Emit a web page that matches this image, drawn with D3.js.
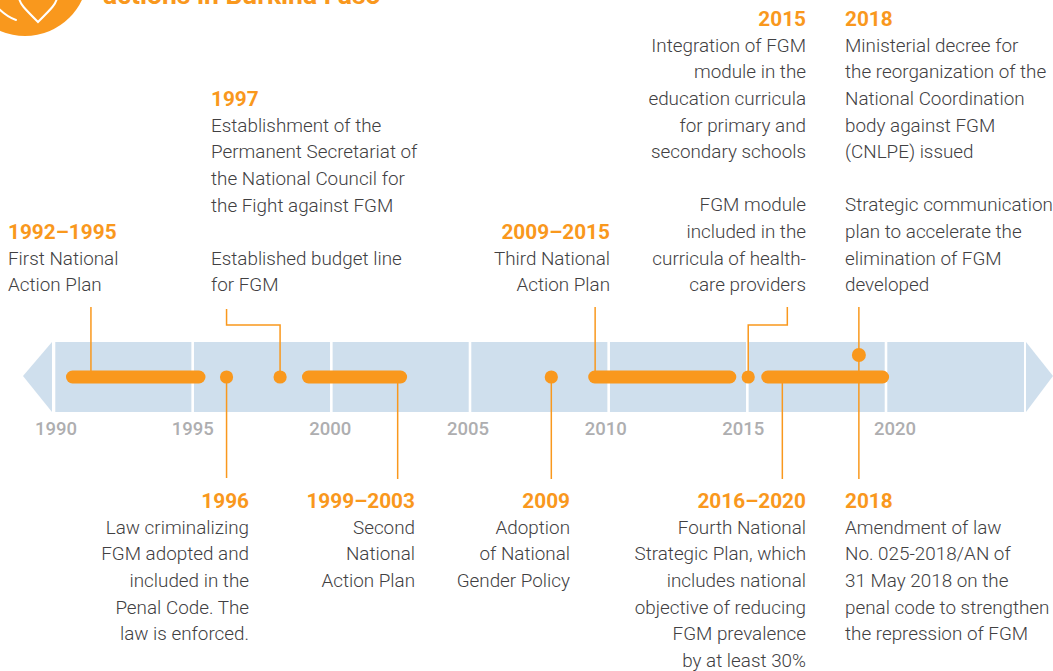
<!DOCTYPE html>
<html lang="en">
<head>
    <title>Burkina Faso FGM timeline</title>
    <script src="https://cdnjs.cloudflare.com/ajax/libs/d3/7.8.5/d3.min.js"></script>
    <style>
        html, body { margin: 0; padding: 0; background: #fff; overflow: hidden; }
        svg { display: block; font-family: Roboto, sans-serif; }
        .block text { font-size: 18.85px; font-weight: 300; fill: #414042; }
        .block text.head { font-size: 20.8px; font-weight: 700; fill: #f9981d; }
        .tick text { font-size: 18.5px; font-weight: 500; fill: #aeaeb0; }
        .leader { fill: none; stroke: #f9981d; stroke-width: 1.5; }
    </style>
</head>
<body>
    <svg width="1053" height="671"></svg>
    <script>
        const tickYears = [1990, 1995, 2000, 2005, 2010, 2015, 2020];
        // label nudges, the 2020 label sits right of its tick in the original
        const tickNudge = [2, 0, -1, -2, -3, -4, 9];

        // positions on the year axis as drawn (the drawn marks do not line up exactly with their labels)
        const barStart = [1990.45, 1998.96, 2009.28, 2015.52];
        const barEnd = [1995.48, 2002.75, 2014.62, 2020.13];
        const dotYear = [1996.24, 1998.17, 2007.95, 2015.05, 2019.04];

        const headings = ["1992–1995", "1997", "2009–2015", "2015", "2018",
                          "1996", "1999–2003", "2009", "2016–2020", "2018"];
        const bodies = [
            ["First National", "Action Plan"],
            ["Establishment of the", "Permanent Secretariat of", "the National Council for", "the Fight against FGM", "", "Established budget line", "for FGM"],
            ["Third National", "Action Plan"],
            ["Integration of FGM", "module in the", "education curricula", "for primary and", "secondary schools", "", "FGM module", "included in the", "curricula of health-", "care providers"],
            ["Ministerial decree for", "the reorganization of the", "National Coordination", "body against FGM", "(CNLPE) issued", "", "Strategic communication", "plan to accelerate the", "elimination of FGM", "developed"],
            ["Law criminalizing", "FGM adopted and", "included in the", "Penal Code. The", "law is enforced."],
            ["Second", "National", "Action Plan"],
            ["Adoption", "of National", "Gender Policy"],
            ["Fourth National", "Strategic Plan, which", "includes national", "objective of reducing", "FGM prevalence", "by at least 30%"],
            ["Amendment of law", "No. 025-2018/AN of", "31 May 2018 on the", "penal code to strengthen", "the repression of FGM"]
        ];
        const blockX = [8, 211, 610, 806, 845, 249, 415, 570, 806, 845];
        const blockY = [239, 106, 239, 26, 26, 508, 508, 508, 508, 508];
        const blockAnchor = ["start", "start", "end", "end", "start", "end", "end", "end", "end", "start"];

        const svg = d3.select("svg");
        const orange = "#f9981d";
        const band = "#cfdfed";
        const bandTop = 342, bandBottom = 412, midY = 377, lineHeight = 26.6;

        const x = d3.scaleLinear().domain([1990, 2020]).range([53.5, 885.5]);

        // icon and title, cropped by the top of the page
        svg.append("circle").attr("cx", 25).attr("cy", -27).attr("r", 63).attr("fill", orange);
        svg.append("path")
            .attr("d", "M19,-2C20,4 24,8 38,22C52,8 56,4 57,-2")
            .attr("fill", "none").attr("stroke", "#fff").attr("stroke-width", 2);
        svg.append("path")
            .attr("d", "M-2,8C4,14 10,18 16,20")
            .attr("fill", "none").attr("stroke", "#fff").attr("stroke-width", 2).attr("stroke-linecap", "round");
        svg.append("text").attr("x", 103).attr("y", 4)
            .attr("font-size", 26.5).attr("font-weight", 700).attr("fill", orange)
            .text("actions in Burkina Faso");

        // band with its two arrow heads
        svg.append("rect").attr("x", 53).attr("y", bandTop)
            .attr("width", 971).attr("height", bandBottom - bandTop).attr("fill", band);
        svg.append("path")
            .attr("d", d3.line()([[52, bandTop], [23, (bandTop + bandBottom) / 2 - 1], [52, bandBottom]]))
            .attr("fill", band);
        svg.append("path")
            .attr("d", d3.line()([[1026, bandTop], [1053, (bandTop + bandBottom) / 2 - 1], [1026, bandBottom]]))
            .attr("fill", band);

        // year axis, ticks are the white separators across the band
        const axis = svg.append("g")
            .attr("transform", `translate(0,${bandBottom})`)
            .call(d3.axisBottom(x).tickValues(tickYears).tickFormat(d3.format("d")).tickSize(bandBottom - bandTop).tickPadding(0));
        axis.select(".domain").remove();
        axis.selectAll(".tick line")
            .attr("y1", 0).attr("y2", bandTop - bandBottom)
            .attr("stroke", "#fff").attr("stroke-width", 2.6);
        axis.selectAll(".tick text")
            .attr("y", 23).attr("dy", 0)
            .attr("dx", (d, i) => tickNudge[i]);
        axis.attr("font-family", null).attr("font-size", null);

        // leader lines, run as [year, y] points
        const lineGen = d3.line().x(d => x(d[0])).y(d => d[1]);
        const leaders = [
            [[1991.35, 307], [1991.35, midY]],
            [[1996.24, 309], [1996.24, 325], [1998.17, 325], [1998.17, midY]],
            [[1996.24, midY], [1996.24, 478]],
            [[2002.41, midY], [2002.41, 479]],
            [[2007.95, midY], [2007.95, 479]],
            [[2009.53, 307], [2009.53, midY]],
            [[2016.46, 307], [2016.46, 325], [2015.05, 325], [2015.05, midY]],
            [[2016.28, midY], [2016.28, 479]],
            [[2019.04, 307], [2019.04, 479]]
        ];
        svg.append("g").selectAll("path")
            .data(leaders)
            .enter().append("path")
            .attr("class", "leader")
            .attr("d", lineGen);

        // period bars
        svg.append("g").selectAll("rect")
            .data(barStart)
            .enter().append("rect")
            .attr("x", d => x(d))
            .attr("y", midY - 6.5)
            .attr("width", (d, i) => x(barEnd[i]) - x(d))
            .attr("height", 13)
            .attr("rx", 6.5)
            .attr("fill", orange);

        // single year dots, the 2018 one sits above the bar
        svg.append("g").selectAll("circle")
            .data(dotYear)
            .enter().append("circle")
            .attr("cx", d => x(d))
            .attr("cy", (d, i) => i === 4 ? 355 : midY)
            .attr("r", (d, i) => i === 4 ? 7 : 6.6)
            .attr("fill", orange);

        // text blocks
        const block = svg.append("g").selectAll("g")
            .data(headings)
            .enter().append("g")
            .attr("class", "block")
            .attr("text-anchor", (d, i) => blockAnchor[i])
            .attr("transform", (d, i) => `translate(${blockX[i]},${blockY[i]})`);
        block.append("text").attr("class", "head").text(d => d);
        block.each(function(d, i) {
            d3.select(this).selectAll("text.line")
                .data(bodies[i])
                .enter().append("text")
                .attr("class", "line")
                .attr("y", (t, j) => (j + 1) * lineHeight - 0.8)
                .text(t => t);
        });
    </script>
</body>
</html>
